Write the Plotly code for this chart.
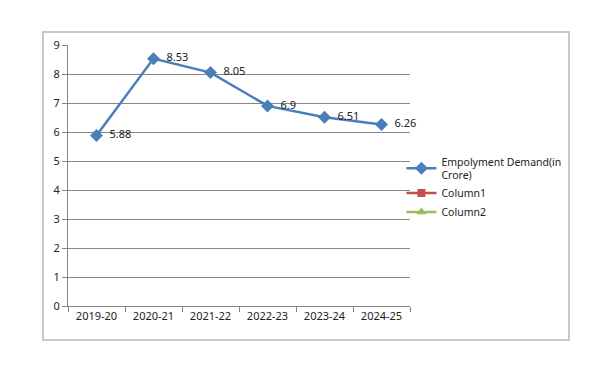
import plotly.graph_objects as go

categories = ["2019-20", "2020-21", "2021-22", "2022-23", "2023-24", "2024-25"]
demand = [5.88, 8.53, 8.05, 6.9, 6.51, 6.26]
demand_labels = ["5.88", "8.53", "8.05", "6.9", "6.51", "6.26"]
y_ticks = [0, 1, 2, 3, 4, 5, 6, 7, 8, 9]

FONT = "Noto Sans"
fig = go.Figure()
fig.add_trace(go.Scatter(
    x=categories, y=demand, mode="lines+markers+text",
    name="Empolyment Demand(in<br>Crore)",
    text=["  " + t for t in demand_labels], textposition="middle right",
    textfont=dict(family=FONT, size=11, color="#222"),
    line=dict(color="#4A7EBB", width=2.5),
    marker=dict(symbol="diamond", size=10, color="#4A7EBB"),
    cliponaxis=False,
))
fig.add_trace(go.Scatter(
    x=[None], y=[None], mode="lines+markers", name="Column1",
    line=dict(color="#C0504D", width=2.5),
    marker=dict(symbol="square", size=8, color="#C0504D"),
))
fig.add_trace(go.Scatter(
    x=[None], y=[None], mode="lines+markers", name="Column2",
    line=dict(color="#9BBB59", width=2.5),
    marker=dict(symbol="triangle-up", size=9, color="#9BBB59"),
))

fig.update_layout(
    width=600, height=368,
    margin=dict(l=60, r=198, t=37, b=70),
    paper_bgcolor="white", plot_bgcolor="white",
    font=dict(family=FONT, size=11, color="#222"),
    showlegend=True,
    legend=dict(x=0.975, y=0.605, xanchor="left", yanchor="top",
                font=dict(family=FONT, size=10.5, color="#222"),
                itemwidth=30, tracegroupgap=0, bgcolor="rgba(0,0,0,0)"),
    xaxis=dict(
        type="category", categoryorder="array", categoryarray=categories,
        range=[-0.5, 5.5], tickson="boundaries", ticks="outside", ticklen=5,
        tickcolor="#868686", showline=True, linecolor="#868686", linewidth=1,
        showgrid=False, zeroline=False, tickfont=dict(size=11),
    ),
    yaxis=dict(
        range=[0, 9], tickvals=y_ticks, ticks="outside", ticklen=5,
        tickcolor="#868686", showline=True, linecolor="#868686", linewidth=1,
        showgrid=True, gridcolor="#868686", gridwidth=1, zeroline=False,
        tickfont=dict(size=11),
    ),
    shapes=[dict(type="rect", xref="paper", yref="paper",
                 x0=-0.0731, x1=1.4649, y0=-0.1303, y1=1.0498,
                 line=dict(color="#C8C8C8", width=2), layer="below")],
)

fig.write_html("out.html")
